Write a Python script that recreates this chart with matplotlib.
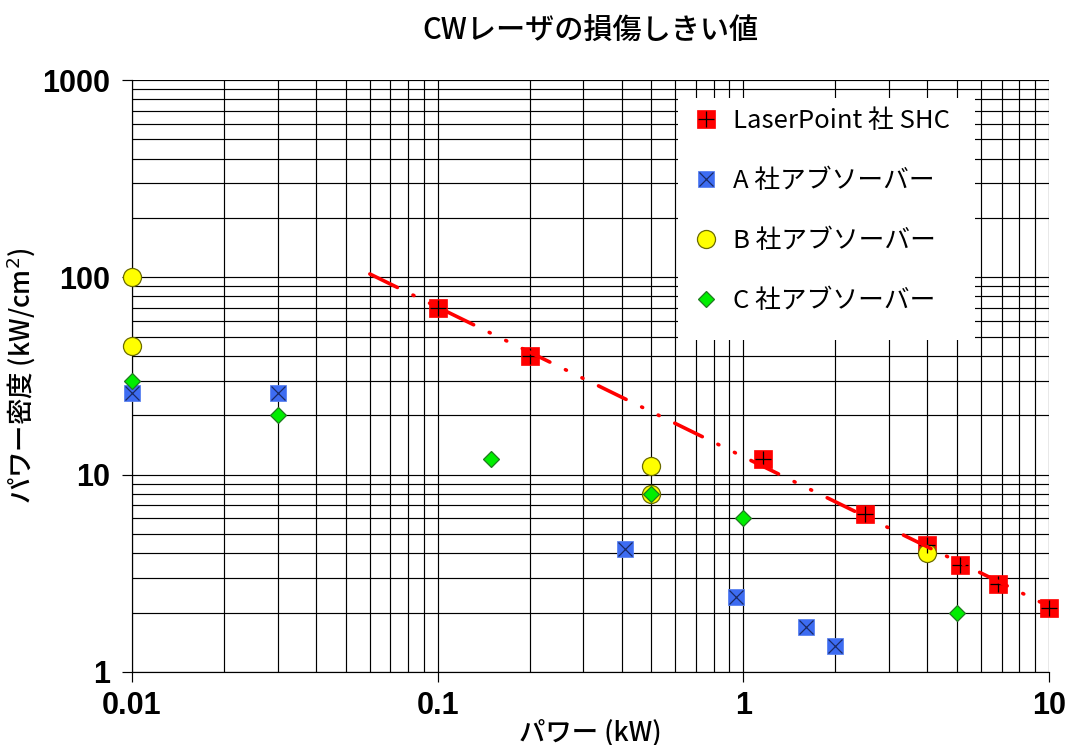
#!/usr/bin/env python3
"""
CW laser damage threshold chart: power density vs. power for several absorbers.
"""

import matplotlib
matplotlib.use('Agg')
import matplotlib.pyplot as plt
import matplotlib.ticker as mticker
from matplotlib.patches import Rectangle
import numpy as np

plt.rcParams['font.family'] = ['Noto Sans CJK JP', 'DejaVu Sans']

# LaserPoint SHC
lp_power = [0.1, 0.2, 1.16, 2.5, 4.0, 5.1, 6.8, 10.0]
lp_density = [70, 40, 12, 6.3, 4.4, 3.5, 2.8, 2.1]

# A absorber
a_power = [0.01, 0.03, 0.41, 0.95, 1.6, 2.0]
a_density = [26, 26, 4.2, 2.4, 1.7, 1.35]

# B absorber
b_power = [0.01, 0.01, 0.5, 0.5, 4.0]
b_density = [100, 45, 11, 8, 4.0]

# C absorber
c_power = [0.01, 0.03, 0.15, 0.5, 1.0, 5.0]
c_density = [30, 20, 12, 8, 6, 2]

labels = ['LaserPoint 社 SHC', 'A 社アブソーバー', 'B 社アブソーバー', 'C 社アブソーバー']
trend_range = [0.06, 10]

fig = plt.figure(figsize=(10.67, 7.45), dpi=100)
ax = fig.add_axes([0.1237, 0.098, 0.8594, 0.7946])

ax.set_xscale('log')
ax.set_yscale('log')
ax.set_xlim(0.01, 10)
ax.set_ylim(1, 1000)

# grid
ax.grid(True, which='both', color='black', linewidth=0.85, zorder=0)
ax.set_axisbelow(True)
for side in ['top', 'right']:
    ax.spines[side].set_visible(False)
for side in ['left', 'bottom']:
    ax.spines[side].set_linewidth(0.85)

ax.xaxis.set_major_locator(mticker.LogLocator(base=10))
ax.yaxis.set_major_locator(mticker.LogLocator(base=10))
ax.xaxis.set_minor_locator(mticker.LogLocator(base=10, subs=np.arange(2, 10)))
ax.yaxis.set_minor_locator(mticker.LogLocator(base=10, subs=np.arange(2, 10)))
ax.xaxis.set_major_formatter(mticker.FuncFormatter(lambda v, p: f'{v:g}'))
ax.yaxis.set_major_formatter(mticker.FuncFormatter(lambda v, p: f'{v:g}'))
ax.xaxis.set_minor_formatter(mticker.NullFormatter())
ax.yaxis.set_minor_formatter(mticker.NullFormatter())
ax.tick_params(which='major', direction='out', length=7, width=0.85)
ax.tick_params(axis='y', which='major', pad=9)
ax.tick_params(axis='x', which='major', pad=7)
ax.tick_params(which='minor', length=0)
for lbl in ax.get_xticklabels() + ax.get_yticklabels():
    lbl.set_family('Liberation Sans')
    lbl.set_fontweight('bold')
    lbl.set_fontsize(22)

# legend background box
ax.add_patch(Rectangle((0.5954, 0.5608), 0.3239, 0.4088, transform=ax.transAxes,
                       facecolor='white', edgecolor='none', zorder=2))

# markers
lp_sq, = ax.plot(lp_power, lp_density, 's', color='#ff0000', markersize=12.5,
                 markeredgecolor='#ff0000', markeredgewidth=0.5, zorder=4, clip_on=False)
lp_pl, = ax.plot(lp_power, lp_density, '+', color='black', markersize=11,
                 markeredgewidth=0.9, zorder=5, clip_on=False)
a_sq, = ax.plot(a_power, a_density, 's', color='#3d6cf2', markersize=11.5,
                markeredgecolor='#5b82f0', markeredgewidth=0.6, zorder=4, clip_on=False)
a_x, = ax.plot(a_power, a_density, 'x', color='#1a2a66', markersize=10.5,
               markeredgewidth=0.9, zorder=5, clip_on=False)
b_c, = ax.plot(b_power, b_density, 'o', color='#ffff00', markersize=13,
               markeredgecolor='#6b6b00', markeredgewidth=0.9, zorder=4, clip_on=False)
c_d, = ax.plot(c_power, c_density, 'D', color='#00ee00', markersize=7.8,
               markeredgecolor='#1f7a1f', markeredgewidth=0.9, zorder=6, clip_on=False)

# power-law trendline for LaserPoint data
coef = np.polyfit(np.log10(lp_power), np.log10(lp_density), 1)
tx = np.logspace(np.log10(trend_range[0]), np.log10(trend_range[1]), 100)
ty = 10 ** np.polyval(coef, np.log10(tx))
ax.plot(tx, ty, color='#ff0000', linewidth=2.6, solid_capstyle='round',
        dash_capstyle='round', linestyle=(0, (8.5, 4.8, 0.3, 4.8, 0.3, 4.8)),
        zorder=7, clip_on=False)

leg = ax.legend([(lp_sq, lp_pl), (a_sq, a_x), b_c, c_d], labels,
                loc='upper left', bbox_to_anchor=(0.600, 0.972), fontsize=18.5,
                frameon=False, labelspacing=1.32, handlelength=1.0,
                handletextpad=0.55, borderpad=0.44, borderaxespad=0)
leg.set_zorder(10)

ax.text(0.5, 1.0845, 'CWレーザの損傷しきい値', transform=ax.transAxes,
        ha='center', va='center', fontsize=21, fontweight='medium')
ax.set_xlabel('パワー (kW)', fontsize=19, fontweight='medium')
ax.xaxis.set_label_coords(0.5, -0.103)
ax.xaxis.label.set_va('center')
ax.set_ylabel('パワー密度 (kW/cm$^2$)', fontsize=19, fontweight='medium')
ax.yaxis.set_label_coords(-0.12, 0.5)
ax.yaxis.label.set_va('center')

fig.savefig('out.png', dpi=100)
